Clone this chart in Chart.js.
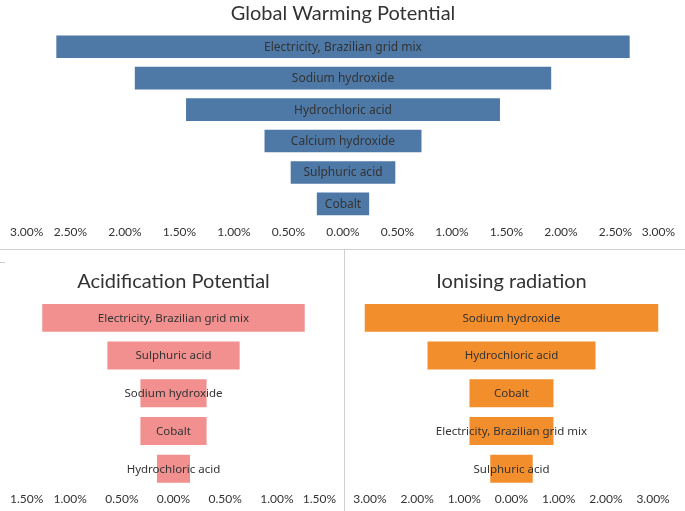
<!DOCTYPE html>
<html>
<head>
<meta charset="utf-8">
<script src="https://cdn.jsdelivr.net/npm/chart.js@4/dist/chart.umd.min.js"></script>
<style>
  html, body { margin: 0; padding: 0; background: #ffffff; }
  body { width: 685px; height: 511px; position: relative; overflow: hidden; }
  .box { position: absolute; }
  .hline { position: absolute; left: 0; top: 249px; width: 685px; height: 1px; background: #cfcfcf; }
  .vline { position: absolute; left: 344px; top: 249px; width: 1px; height: 262px; background: #cfcfcf; }
  .tick { position: absolute; left: 0; top: 262px; width: 5px; height: 1px; background: #cfcfcf; }
</style>
</head>
<body>
<div class="box" style="left:0;top:0;width:685px;height:248px;"><canvas id="gwp"></canvas></div>
<div class="box" style="left:0;top:250px;width:344px;height:261px;"><canvas id="ap"></canvas></div>
<div class="box" style="left:345px;top:250px;width:340px;height:261px;"><canvas id="ir"></canvas></div>
<div class="hline"></div>
<div class="vline"></div>
<div class="tick"></div>
<script>
// ---- data ----
const gwpTitle = 'Global Warming Potential';
const gwpCategories = ['Electricity, Brazilian grid mix', 'Sodium hydroxide', 'Hydrochloric acid', 'Calcium hydroxide', 'Sulphuric acid', 'Cobalt'];
const gwpValues = [2.63, 1.91, 1.44, 0.72, 0.48, 0.24];
const gwpTicks = [-3, -2.5, -2, -1.5, -1, -0.5, 0, 0.5, 1, 1.5, 2, 2.5, 3];

const apTitle = 'Acidification Potential';
const apCategories = ['Electricity, Brazilian grid mix', 'Sulphuric acid', 'Sodium hydroxide', 'Cobalt', 'Hydrochloric acid'];
const apValues = [1.27, 0.64, 0.32, 0.32, 0.16];
const apTicks = [-1.5, -1, -0.5, 0, 0.5, 1, 1.5];

const irTitle = 'Ionising radiation';
const irCategories = ['Sodium hydroxide', 'Hydrochloric acid', 'Cobalt', 'Electricity, Brazilian grid mix', 'Sulphuric acid'];
const irValues = [3.11, 1.78, 0.89, 0.89, 0.45];
const irTicks = [-3, -2, -1, 0, 1, 2, 3];

const TITLE_FONT = 'Lato, "Noto Sans", sans-serif';
const LABEL_FONT = '"Noto Sans", "Open Sans", sans-serif';
const TICK_FONT = 'Lato, "Noto Sans", sans-serif';
const TEXT = '#333333';

// category name written inside each bar
const barLabelPlugin = {
  id: 'barLabels',
  afterDatasetsDraw(chart, args, opts) {
    const ctx = chart.ctx;
    const meta = chart.getDatasetMeta(0);
    ctx.save();
    ctx.fillStyle = TEXT;
    ctx.font = opts.size + 'px ' + LABEL_FONT;
    ctx.textAlign = 'center';
    ctx.textBaseline = 'middle';
    meta.data.forEach((bar, i) => {
      const p = bar.getProps(['x', 'base', 'y'], true);
      ctx.fillText(chart.data.labels[i], (p.x + p.base) / 2, p.y + 0.5);
    });
    ctx.restore();
  }
};

// keep outer tick labels inside the pane (like the original tool does)
const clampTicksPlugin = {
  id: 'clampTicks',
  beforeDraw(chart, args, opts) {
    const scale = chart.scales.x;
    const items = scale.getLabelItems(chart.chartArea);
    const ctx = chart.ctx;
    items.forEach(it => {
      ctx.save();
      ctx.font = it.font.string;
      const w = ctx.measureText(String(it.label)).width;
      ctx.restore();
      const t = it.options.translation;
      let x = t[0];
      if (x - w / 2 < opts.left) x = opts.left + w / 2;
      if (x + w / 2 > chart.width - opts.right) x = chart.width - opts.right - w / 2;
      t[0] = x;
    });
  }
};

function makeChart(id, title, cats, vals, ticks, color, cfg) {
  return new Chart(document.getElementById(id), {
    type: 'bar',
    data: {
      labels: cats,
      datasets: [{
        data: vals.map(v => [-v, v]),
        backgroundColor: color,
        borderWidth: 0,
        categoryPercentage: 1,
        barPercentage: cfg.barPct
      }]
    },
    options: {
      indexAxis: 'y',
      responsive: true,
      maintainAspectRatio: false,
      animation: false,
      devicePixelRatio: 1,
      layout: { padding: cfg.padding },
      plugins: {
        legend: { display: false },
        tooltip: { enabled: false },
        title: {
          display: true, text: title, color: TEXT,
          font: { family: TITLE_FONT, size: cfg.titleSize, weight: 'normal' },
          padding: cfg.titlePad
        },
        barLabels: { size: cfg.labelSize },
        clampTicks: cfg.clamp
      },
      scales: {
        y: { display: false },
        x: {
          min: cfg.min, max: cfg.max,
          grid: { display: false, drawTicks: false },
          border: { display: false },
          afterBuildTicks: (scale) => { scale.ticks = ticks.map(v => ({ value: v })); },
          afterFit: (scale) => { scale.paddingLeft = 0; scale.paddingRight = 0; },
          ticks: {
            color: TEXT, align: 'center', padding: cfg.tickPad, maxRotation: 0, autoSkip: false,
            font: { family: TICK_FONT, size: 12 },
            callback: (v) => Math.abs(v).toFixed(2) + '%'
          }
        }
      }
    },
    plugins: [barLabelPlugin, clampTicksPlugin]
  });
}

makeChart('gwp', gwpTitle, gwpCategories, gwpValues, gwpTicks, '#4e79a7', {
  barPct: 0.72, padding: { left: 16, right: 15, top: 0, bottom: 4 },
  titleSize: 20, titlePad: { top: 2, bottom: 5 }, labelSize: 12,
  min: -3, max: 3, tickPad: 5, clamp: { left: 10, right: 10 }
});
makeChart('ap', apTitle, apCategories, apValues, apTicks, '#f1908f', {
  barPct: 0.74, padding: { left: 18.5, right: 15.5, top: 0, bottom: 1 },
  titleSize: 20, titlePad: { top: 20, bottom: 5 }, labelSize: 11.5,
  min: -1.5, max: 1.5, tickPad: 4, clamp: { left: 10, right: 8 }
});
makeChart('ir', irTitle, irCategories, irValues, irTicks, '#f28e2b', {
  barPct: 0.74, padding: { left: 15.5, right: 22.5, top: 0, bottom: 1 },
  titleSize: 20, titlePad: { top: 20, bottom: 5 }, labelSize: 11.5,
  min: -3.2, max: 3.2, tickPad: 4, clamp: { left: 6, right: 6 }
});
</script>
</body>
</html>
